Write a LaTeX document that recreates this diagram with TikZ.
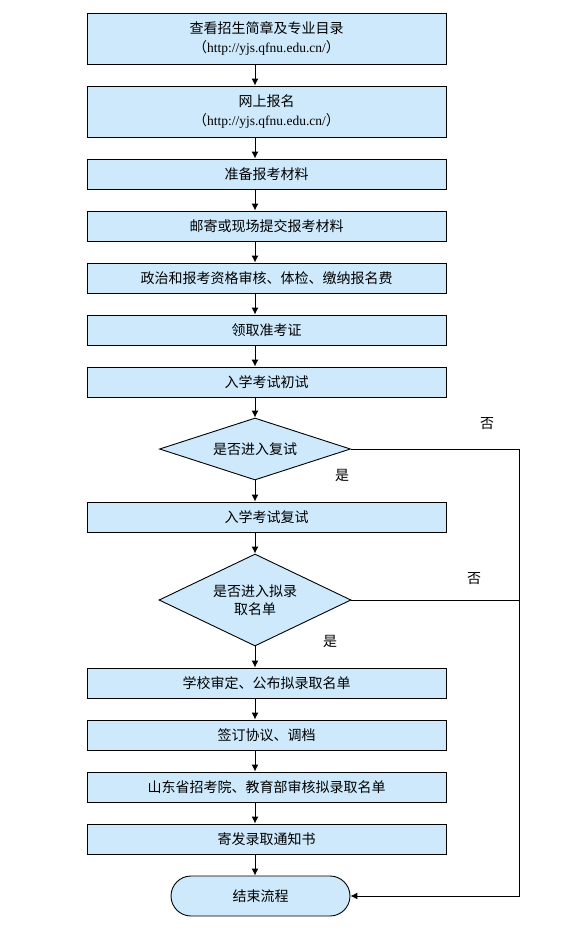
\documentclass[tikz,border=0pt]{standalone}
\usepackage{fontspec}
\newfontfamily\cjk{Noto Sans CJK SC}
\newfontfamily\urlf{Liberation Serif}
\usetikzlibrary{shapes.geometric,shapes.misc,arrows.meta}
\definecolor{boxfill}{RGB}{205,233,251}
\tikzset{
  base/.style={draw=black,line width=0.9pt,fill=boxfill,font=\cjk\fontsize{14}{17.5}\selectfont,align=center,inner sep=0pt},
  stepbox/.style={base,rectangle,minimum width=359pt,minimum height=30pt},
  tallbox/.style={base,rectangle,minimum width=359pt,minimum height=51pt},
  arr/.style={draw=black,line width=1pt,-{Latex[length=7pt,width=7pt]}},
  ln/.style={draw=black,line width=1pt},
  lbl/.style={font=\cjk\fontsize{14}{17.5}\selectfont}
}
\newcommand{\urltext}{{\cjk （}{\urlf\fontsize{13.5}{17}\selectfont http://yjs.qfnu.edu.cn/}{\cjk ）}}
\begin{document}
\begin{tikzpicture}[x=1pt,y=-1pt]
\useasboundingbox (0,0) rectangle (567,930);
\node[tallbox] (b1) at (266.5,38.5) {查看招生简章及专业目录\\[2pt]\urltext};
\node[tallbox] (b2) at (266.5,111.5) {网上报名\\[2pt]\urltext};
\node[stepbox] (b3) at (266.5,174) {准备报考材料};
\node[stepbox] (b4) at (266.5,226) {邮寄或现场提交报考材料};
\node[stepbox] (b5) at (266.5,278) {政治和报考资格审核、体检、缴纳报名费};
\node[stepbox] (b6) at (266.5,330) {领取准考证};
\node[stepbox] (b7) at (266.5,382) {入学考试初试};
\node[base,diamond,minimum width=191pt,minimum height=62pt,inner sep=0pt] (d1) at (255,449) {};
\node[lbl] at (d1) {是否进入复试};
\node[stepbox] (b8) at (266.5,517) {入学考试复试};
\node[base,diamond,minimum width=192pt,minimum height=92pt,inner sep=0pt] (d2) at (255,600) {};
\node[lbl,align=center] at (d2) {是否进入拟录\\取名单};
\node[stepbox] (b9) at (266.5,683) {学校审定、公布拟录取名单};
\node[stepbox] (b10) at (266.5,735) {签订协议、调档};
\node[stepbox] (b11) at (266.5,787) {山东省招考院、教育部审核拟录取名单};
\node[stepbox] (b12) at (266.5,839) {寄发录取通知书};
\node[base,rounded rectangle,minimum width=179pt,minimum height=40pt] (e) at (260.5,896) {结束流程};
\coordinate (c1) at (519,449);
\coordinate (c2) at (519,600);
\coordinate (c3) at (519,896);
\draw[arr] (b1.south -| 255,0) -- (b2.north -| 255,0);
\draw[arr] (b2.south -| 255,0) -- (b3.north -| 255,0);
\draw[arr] (b3.south -| 255,0) -- (b4.north -| 255,0);
\draw[arr] (b4.south -| 255,0) -- (b5.north -| 255,0);
\draw[arr] (b5.south -| 255,0) -- (b6.north -| 255,0);
\draw[arr] (b6.south -| 255,0) -- (b7.north -| 255,0);
\draw[arr] (b7.south -| 255,0) -- (d1.north);
\draw[arr] (d1.south) -- (b8.north -| 255,0);
\draw[arr] (b8.south -| 255,0) -- (d2.north);
\draw[arr] (d2.south) -- (b9.north -| 255,0);
\draw[arr] (b9.south -| 255,0) -- (b10.north -| 255,0);
\draw[arr] (b10.south -| 255,0) -- (b11.north -| 255,0);
\draw[arr] (b11.south -| 255,0) -- (b12.north -| 255,0);
\draw[arr] (b12.south -| 255,0) -- (e.north -| 255,0);
\draw[ln] (d1.east) -- (c1) -- (c2);
\draw[ln] (d2.east) -- (c2);
\draw[arr] (c2) -- (c3) -- (e.east);
\node[lbl] (n1) at (487,424) {否};
\node[lbl] (y1) at (342,475) {是};
\node[lbl] (n2) at (474,579) {否};
\node[lbl] (y2) at (330,641) {是};
\end{tikzpicture}
\end{document}
